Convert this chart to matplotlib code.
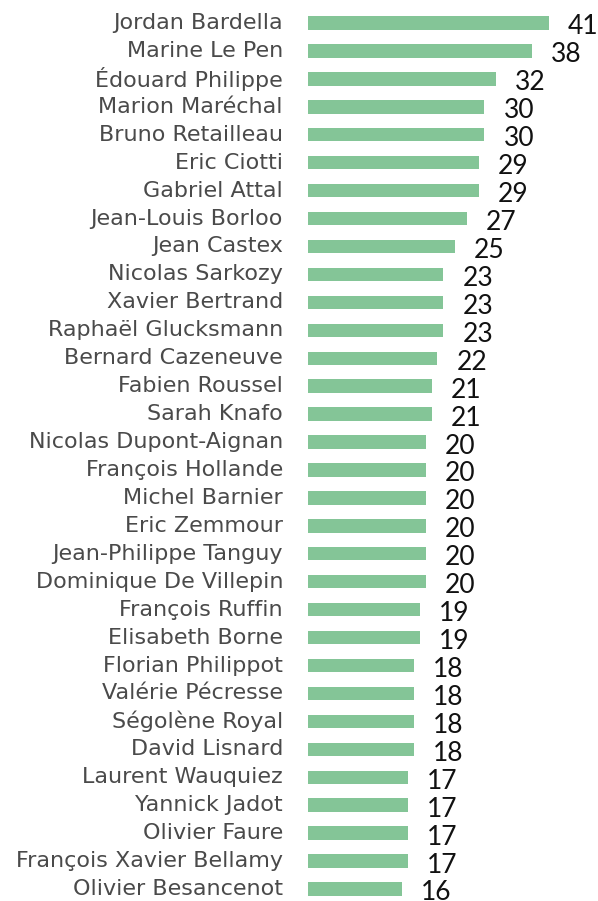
import matplotlib
matplotlib.use("Agg")
import matplotlib.pyplot as plt
import matplotlib.transforms as mtransforms

# donnees
noms = ["Jordan Bardella", "Marine Le Pen", "Édouard Philippe", "Marion Maréchal",
        "Bruno Retailleau", "Eric Ciotti", "Gabriel Attal", "Jean-Louis Borloo",
        "Jean Castex", "Nicolas Sarkozy", "Xavier Bertrand", "Raphaël Glucksmann",
        "Bernard Cazeneuve", "Fabien Roussel", "Sarah Knafo", "Nicolas Dupont-Aignan",
        "François Hollande", "Michel Barnier", "Eric Zemmour", "Jean-Philippe Tanguy",
        "Dominique De Villepin", "François Ruffin", "Elisabeth Borne", "Florian Philippot",
        "Valérie Pécresse", "Ségolène Royal", "David Lisnard", "Laurent Wauquiez",
        "Yannick Jadot", "Olivier Faure", "François Xavier Bellamy", "Olivier Besancenot"]
valeurs = [41, 38, 32, 30, 30, 29, 29, 27, 25, 23, 23, 23, 22, 21, 21, 20,
           20, 20, 20, 20, 20, 19, 19, 18, 18, 18, 18, 17, 17, 17, 17, 16]

W, H = 598, 901
fig = plt.figure(figsize=(W / 100, H / 100), dpi=100)
ax = fig.add_axes([308 / W, 0, (W - 308) / W, 1])

pos = list(range(len(noms)))
ax.barh(pos, valeurs, height=0.48, color="#84c597")
ax.set_xlim(0, 49.3)
ax.set_ylim(31.43, -0.823)
ax.axis("off")

decal = mtransforms.offset_copy(ax.transData, fig=fig, x=19, y=-4, units="dots")
lab = mtransforms.offset_copy(ax.transData, fig=fig, x=-25, y=0, units="dots")
for i, (n, v) in enumerate(zip(noms, valeurs)):
    ax.text(v, i, str(v), transform=decal, ha="left", va="center",
            fontsize=19, family="Lato", color="#111111", clip_on=False)
    ax.text(0, i, n, transform=lab, ha="right", va="center",
            fontsize=16, family="DejaVu Sans", color="#4a4a4a", clip_on=False)

fig.savefig("out.png", dpi=100)
